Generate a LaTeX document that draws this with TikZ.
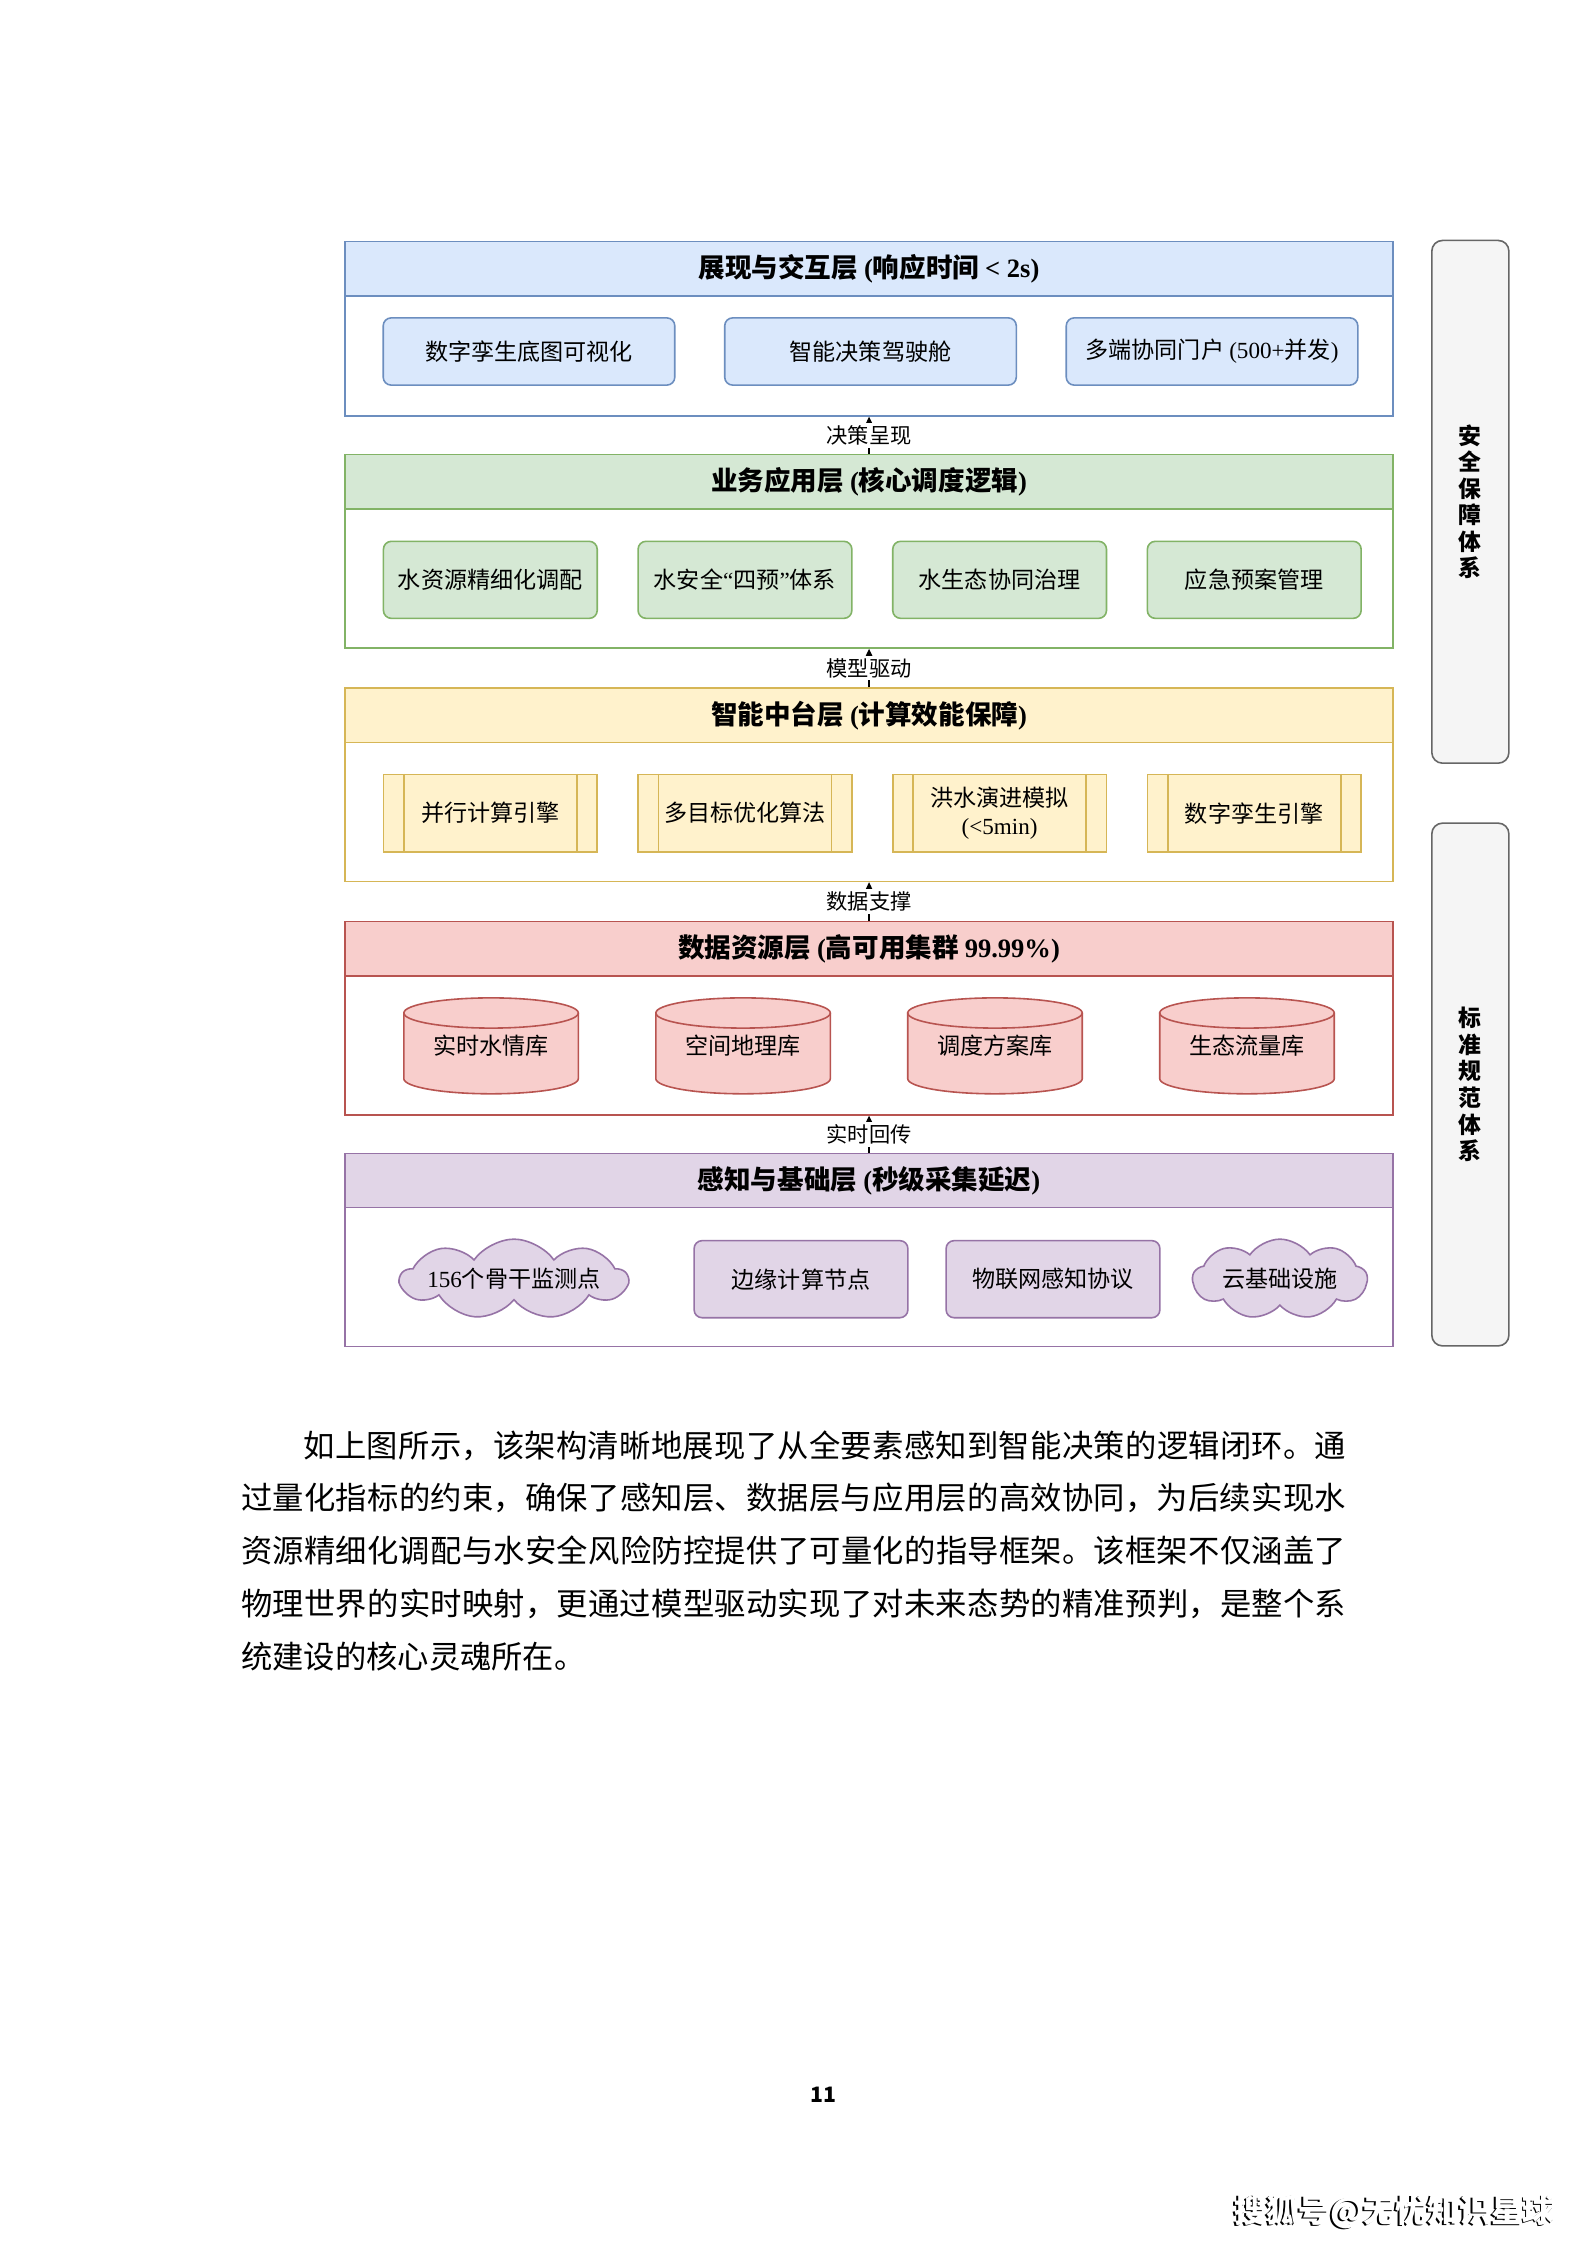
\documentclass[tikz,border=0pt]{standalone}
\usepackage{fontspec}
\setmainfont{Noto Sans CJK SC}
\newfontfamily\tms{Liberation Serif}
\usetikzlibrary{arrows.meta,positioning,shapes.geometric,shapes.symbols}
\definecolor{bluefill}{HTML}{DAE8FC}
\definecolor{blueline}{HTML}{6C8EBF}
\definecolor{greenfill}{HTML}{D5E8D4}
\definecolor{greenline}{HTML}{82B366}
\definecolor{yellowfill}{HTML}{FFF2CC}
\definecolor{yellowline}{HTML}{D6B656}
\definecolor{redfill}{HTML}{F8CECC}
\definecolor{redline}{HTML}{B85450}
\definecolor{purplefill}{HTML}{E1D5E7}
\definecolor{purpleline}{HTML}{9673A6}
\definecolor{greyfill}{HTML}{F5F5F5}
\definecolor{greyline}{HTML}{666666}
\XeTeXlinebreaklocale "zh"
\XeTeXlinebreakskip=0pt plus 1pt

\begin{document}
\begin{tikzpicture}[
  layerbody/.style={draw=#1line, line width=0.6pt, fill=white, minimum width=13.87cm, anchor=north, inner sep=0pt},
  layerhead/.style={draw=#1line, line width=0.6pt, fill=#1fill, minimum width=13.87cm, minimum height=0.72cm,
                    anchor=north, inner sep=0pt, font=\fontsize{10}{12}\selectfont\bfseries},
  itembox/.style={draw=#1line, fill=#1fill, line width=0.6pt, rounded corners=3pt, minimum width=2.83cm,
                  minimum height=1.02cm, align=center, inner sep=1pt, font=\fontsize{8.7}{10.5}\selectfont},
  procbox/.style={itembox=#1, sharp corners},
  dbshape/.style={draw=redline, fill=redfill, line width=0.6pt},
  cloudbox/.style={draw=purpleline, fill=purplefill, line width=0.6pt, cloud, cloud puffs=9, cloud puff arc=110,
                   cloud ignores aspect, minimum height=1.06cm, inner sep=0pt},
  itemtxt/.style={font=\fontsize{8.7}{10.5}\selectfont, inner sep=0pt},
  sidebox/.style={draw=greyline, fill=greyfill, line width=0.6pt, rounded corners=4pt, minimum width=1.02cm,
                  minimum height=6.92cm, align=center, font=\fontsize{8.6}{10}\selectfont\bfseries},
  flow/.style={-{Triangle[length=3.5pt,width=3.2pt]}, line width=0.5pt},
  flowlbl/.style={fill=white, inner sep=1pt, font=\fontsize{8}{9}\selectfont}
]
\fill[white] (0,0) rectangle (21,-29.72);
\useasboundingbox (0,0) rectangle (21,-29.72);

% presentation layer
\node[layerbody=blue, minimum height=2.31cm] (disp) at (11.505,-3.184) {};
\node[layerhead=blue] (dispT) at (disp.north) {展现与交互层 {\tms (}响应时间 {\tms < 2s)}};
\node[itembox=blue, minimum width=3.86cm, minimum height=0.89cm] (twinmap) at (7.003,-4.653) {数字孪生底图可视化};
\node[itembox=blue, minimum width=3.86cm, minimum height=0.89cm, right=0.64cm of twinmap] (cockpit) {智能决策驾驶舱};
\node[itembox=blue, minimum width=3.86cm, minimum height=0.89cm, right=0.64cm of cockpit] (portal) {多端协同门户 {\tms (500+}并发{\tms )}};

% business layer
\node[layerbody=green, minimum height=2.56cm] (biz) at (11.505,-6.008) {};
\node[layerhead=green] (bizT) at (biz.north) {业务应用层 {\tms (}核心调度逻辑{\tms )}};
\node[itembox=green] (alloc) at (6.491,-7.676) {水资源精细化调配};
\node[itembox=green, right=0.52cm of alloc] (safe4) {水安全{\tms “}四预{\tms ”}体系};
\node[itembox=green, right=0.52cm of safe4] (ecogov) {水生态协同治理};
\node[itembox=green, right=0.52cm of ecogov] (emerg) {应急预案管理};

% middle platform
\node[layerbody=yellow, minimum height=2.56cm] (mid) at (11.505,-9.097) {};
\node[layerhead=yellow] (midT) at (mid.north) {智能中台层 {\tms (}计算效能保障{\tms )}};
\node[procbox=yellow] (parcomp) at (6.491,-10.765) {并行计算引擎};
\node[procbox=yellow, right=0.52cm of parcomp] (optim) {多目标优化算法};
\node[procbox=yellow, right=0.52cm of optim] (flood) {洪水演进模拟\\{\tms (<5min)}};
\node[procbox=yellow, right=0.52cm of flood] (twineng) {数字孪生引擎};
\foreach \n in {parcomp,optim,flood,twineng}
  \draw[yellowline, line width=0.6pt] ([xshift=0.28cm]\n.north west) -- ([xshift=0.28cm]\n.south west)
        ([xshift=-0.28cm]\n.north east) -- ([xshift=-0.28cm]\n.south east);

% data layer
\node[layerbody=red, minimum height=2.56cm] (data) at (11.505,-12.187) {};
\node[layerhead=red] (dataT) at (data.north) {数据资源层 {\tms (}高可用集群 {\tms 99.99\%)}};
\foreach \n/\x/\t in {dbwater/6.501/实时水情库, dbgeo/9.837/空间地理库,
                      dbplan/13.172/调度方案库, dbeco/16.508/生态流量库} {
  \draw[dbshape] (\x-1.155,-13.41) -- (\x-1.155,-14.28)
        arc[start angle=180, end angle=360, x radius=1.155, y radius=0.2]
        -- (\x+1.155,-13.41)
        arc[start angle=0, end angle=180, x radius=1.155, y radius=0.2] -- cycle;
  \draw[redline, line width=0.6pt] (\x-1.155,-13.41)
        arc[start angle=180, end angle=360, x radius=1.155, y radius=0.2];
  \node[itemtxt] (\n) at (\x,-13.845) {\t};
}

% sensing layer
\node[layerbody=purple, minimum height=2.56cm] (sense) at (11.505,-15.257) {};
\node[layerhead=purple] (senseT) at (sense.north) {感知与基础层 {\tms (}秒级采集延迟{\tms )}};
\node[cloudbox, minimum width=3.0cm] (stations) at (6.804,-16.934) {};
\node[itemtxt] (stationsT) at (stations.center) {{\tms 156}个骨干监测点};
\node[itembox=purple] (edge) at (10.604,-16.934) {边缘计算节点};
\node[itembox=purple] (iot) at (13.940,-16.934) {物联网感知协议};
\node[cloudbox, minimum width=2.31cm] (cloudinf) at (16.944,-16.934) {};
\node[itemtxt] (cloudinfT) at (cloudinf.center) {云基础设施};

% flows between layers
\draw[flow] (biz.north) -- node[flowlbl] (fl1) {决策呈现} (disp.south);
\draw[flow] (mid.north) -- node[flowlbl] (fl2) {模型驱动} (biz.south);
\draw[flow] (data.north) -- node[flowlbl] (fl3) {数据支撑} (mid.south);
\draw[flow] (sense.north) -- node[flowlbl] (fl4) {实时回传} (data.south);

% side pillars
\node[sidebox] (safety) at (19.465,-6.643) {安\\全\\保\\障\\体\\系};
\node[sidebox] (standard) at (19.465,-14.357) {标\\准\\规\\范\\体\\系};

% text below
\node[anchor=north west, inner sep=0pt, text width=14.63cm, align=justify,
      font=\fontsize{11.8}{19.9}\selectfont] (para) at (3.184,-18.93)
  {\hspace*{2em}如上图所示，该架构清晰地展现了从全要素感知到智能决策的逻辑闭环。通\linebreak
   过量化指标的约束，确保了感知层、数据层与应用层的高效协同，为后续实现水\linebreak
   资源精细化调配与水安全风险防控提供了可量化的指导框架。该框架不仅涵盖了\linebreak
   物理世界的实时映射，更通过模型驱动实现了对未来态势的精准预判，是整个系\linebreak
   统建设的核心灵魂所在。};
\node[font=\fontsize{8}{9}\selectfont\bfseries] (pgno) at (10.898,-27.728) {11};
\node[font=\fontsize{12}{14}\selectfont\bfseries, text=black] (markS) at (18.44,-29.30) {搜狐号@无忧知识星球};
\node[font=\fontsize{12}{14}\selectfont\bfseries, text=white] (mark) at ([shift={(0.025,0.02)}]markS.center) {搜狐号@无忧知识星球};
\end{tikzpicture}
\end{document}
